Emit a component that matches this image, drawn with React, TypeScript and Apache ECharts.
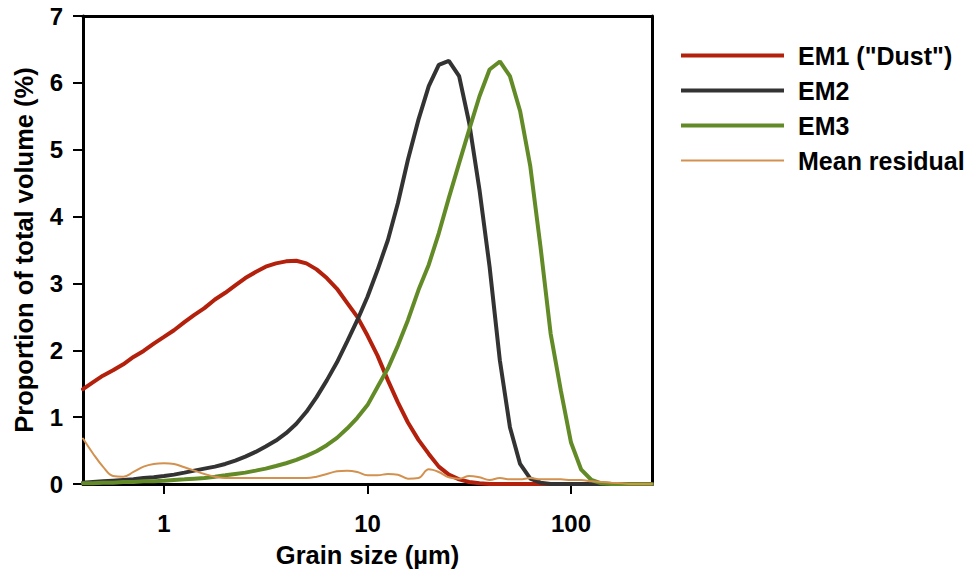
import React, { useEffect, useRef } from "react";
import * as echarts from "echarts";

const SIZES = [
  0.4, 0.447, 0.501, 0.562, 0.631, 0.708, 0.794, 0.891, 1, 1.12, 1.26, 1.41, 1.58, 1.78, 2, 2.24, 2.51, 2.82,
  3.16, 3.55, 3.98, 4.47, 5.01, 5.62, 6.31, 7.08, 7.94, 8.91, 10, 11.2, 12.6, 14.1, 15.8, 17.8, 20, 22.4, 25.1,
  28.2, 31.6, 35.5, 39.8, 44.7, 50.1, 56.2, 63.1, 70.8, 79.4, 89.1, 100, 112, 126, 141, 158, 178, 200, 224, 250,
];

const EM1 = [
  1.42, 1.52, 1.62, 1.7, 1.79, 1.9, 1.99, 2.1, 2.2, 2.3, 2.42, 2.53, 2.63, 2.76, 2.86, 2.97, 3.08, 3.17, 3.25,
  3.3, 3.33, 3.34, 3.3, 3.21, 3.08, 2.92, 2.71, 2.5, 2.22, 1.92, 1.55, 1.22, 0.92, 0.66, 0.45, 0.26, 0.14, 0.07,
  0.03, 0.01, 0, 0, 0, 0, 0, 0, 0, 0, 0, 0, 0, 0, 0, 0, 0, 0, 0,
];

const EM2 = [
  0.02, 0.03, 0.04, 0.05, 0.06, 0.07, 0.09, 0.1, 0.12, 0.14, 0.17, 0.2, 0.23, 0.26, 0.3, 0.35, 0.41, 0.48, 0.56,
  0.65, 0.76, 0.9, 1.08, 1.3, 1.55, 1.82, 2.13, 2.45, 2.8, 3.2, 3.65, 4.2, 4.85, 5.45, 5.95, 6.27, 6.33, 6.1,
  5.4, 4.4, 3.25, 1.85, 0.85, 0.3, 0.08, 0.02, 0, 0, 0, 0, 0, 0, 0, 0, 0, 0, 0,
];

const EM3 = [
  0.01, 0.01, 0.02, 0.02, 0.03, 0.03, 0.04, 0.04, 0.05, 0.06, 0.07, 0.08, 0.09, 0.11, 0.13, 0.15, 0.17, 0.2,
  0.23, 0.27, 0.31, 0.36, 0.42, 0.49, 0.58, 0.69, 0.83, 0.99, 1.18, 1.45, 1.73, 2.07, 2.45, 2.9, 3.28, 3.75,
  4.28, 4.8, 5.3, 5.8, 6.2, 6.32, 6.1, 5.58, 4.75, 3.55, 2.25, 1.4, 0.62, 0.22, 0.06, 0.01, 0, 0, 0, 0, 0,
];

const RESIDUAL = [
  0.68, 0.46, 0.26, 0.12, 0.11, 0.18, 0.26, 0.3, 0.31, 0.3, 0.25, 0.2, 0.15, 0.11, 0.09, 0.09, 0.09, 0.09, 0.09,
  0.09, 0.09, 0.09, 0.09, 0.11, 0.15, 0.19, 0.2, 0.18, 0.13, 0.13, 0.15, 0.14, 0.08, 0.09, 0.22, 0.18, 0.1,
  0.08, 0.12, 0.1, 0.06, 0.09, 0.07, 0.07, 0.09, 0.07, 0.07, 0.07, 0.06, 0.06, 0.04, 0.03, 0.02, 0.01, 0, 0, 0,
];

const SERIES_NAMES = ['EM1 ("Dust")', "EM2", "EM3", "Mean residual"];
const SERIES_COLORS = ["#B3200C", "#333333", "#628B27", "#D2914F"];
const X_TICKS = [1, 10, 100];

const FONT = "'Liberation Sans', Arial, Helvetica, sans-serif";

// legend icons: thick bar (4px) and thin bar (2px) inside a 4px-high box
const ICON_THICK = "path://M0,0H103V4H0Z";
const ICON_THIN = "path://M0,0L0.01,0L0,0ZM0,4L0.01,4L0,4ZM0,1H103V3H0Z";

export default function App() {
  const ref = useRef<HTMLDivElement>(null);

  useEffect(() => {
    if (!ref.current) return;
    const chart = echarts.init(ref.current, undefined, { renderer: "svg" });
    const pair = (vals: number[]) => SIZES.map((s, i) => [s, vals[i]]);
    const tickText = { color: "#000", fontWeight: "bold" as const, fontSize: 24, fontFamily: FONT };
    const titleText = { color: "#000", fontWeight: "bold" as const, fontSize: 25.5, fontFamily: FONT };

    const makeLine = (idx: number, vals: number[], width: number, smooth: number | boolean) => ({
      name: SERIES_NAMES[idx],
      type: "line",
      data: pair(vals),
      showSymbol: false,
      symbol: "none",
      smooth,
      color: SERIES_COLORS[idx],
      lineStyle: { width, color: SERIES_COLORS[idx], cap: "round" },
      clip: true,
    });

    chart.setOption({
      animation: false,
      backgroundColor: "#fff",
      grid: { left: 83, right: 322, top: 16, bottom: 89 },
      legend: {
        orient: "vertical",
        left: 681,
        top: 43,
        padding: 0,
        itemWidth: 103,
        itemHeight: 4,
        itemGap: 10,
        itemStyle: { borderWidth: 0 },
        data: SERIES_NAMES.map((n, i) => ({ name: n, icon: i === 3 ? ICON_THIN : ICON_THICK })),
        textStyle: { color: "#000", fontWeight: "bold", fontSize: 25, fontFamily: FONT, padding: [0, 0, 0, 9] },
      },
      xAxis: [
        {
          type: "log",
          logBase: 10,
          min: 0.4,
          max: 250,
          name: "Grain size (µm)",
          nameLocation: "middle",
          nameGap: 58,
          nameTextStyle: titleText,
          axisLine: { show: true, onZero: false, lineStyle: { color: "#000", width: 3 } },
          axisTick: { show: true, length: 10, lineStyle: { color: "#000", width: 2 }, customValues: X_TICKS },
          axisLabel: { ...tickText, margin: 27, customValues: X_TICKS, formatter: (v: number) => String(v) },
          splitLine: { show: false },
          minorTick: { show: false },
        },
        {
          type: "log",
          logBase: 10,
          min: 0.4,
          max: 250,
          position: "top",
          axisLine: { show: true, onZero: false, lineStyle: { color: "#000", width: 3 } },
          axisTick: { show: false },
          axisLabel: { show: false },
          splitLine: { show: false },
        },
      ],
      yAxis: [
        {
          type: "value",
          min: 0,
          max: 7,
          interval: 1,
          name: "Proportion of total volume (%)",
          nameLocation: "middle",
          nameGap: 46,
          nameTextStyle: titleText,
          axisLine: { show: true, onZero: false, lineStyle: { color: "#000", width: 3 } },
          axisTick: { show: true, length: 10, lineStyle: { color: "#000", width: 2 } },
          axisLabel: { ...tickText, margin: 20 },
          splitLine: { show: false },
        },
        {
          type: "value",
          min: 0,
          max: 7,
          position: "right",
          axisLine: { show: true, onZero: false, lineStyle: { color: "#000", width: 3 } },
          axisTick: { show: false },
          axisLabel: { show: false },
          splitLine: { show: false },
        },
      ],
      series: [
        makeLine(0, EM1, 4, false),
        makeLine(1, EM2, 4, false),
        makeLine(2, EM3, 4, false),
        makeLine(3, RESIDUAL, 2, 0.4),
      ],
    });

    return () => chart.dispose();
  }, []);

  return (
    <div
      ref={ref}
      style={{ position: "absolute", left: 0, top: 0, width: 974, height: 573, background: "#fff" }}
    />
  );
}
